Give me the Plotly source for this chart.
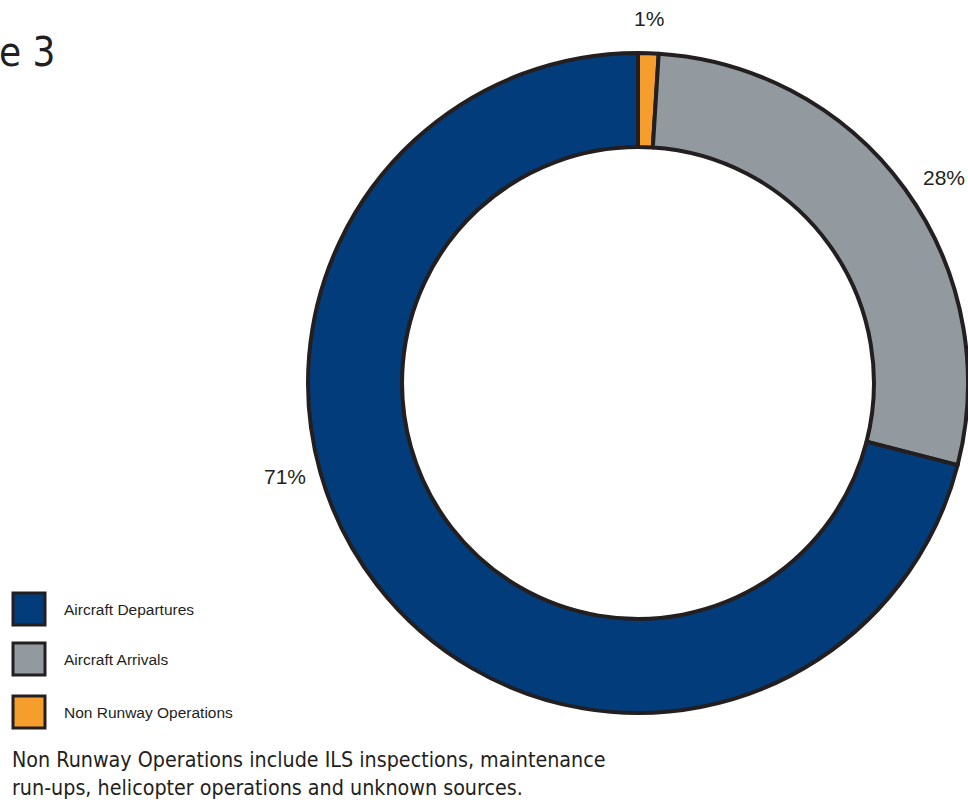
import plotly.graph_objects as go

categories = ["Non Runway Operations", "Aircraft Arrivals", "Aircraft Departures"]
values = [1, 28, 71]
colors = ["#f59d2d", "#939a9f", "#033c7a"]
legend_order = ["Aircraft Departures", "Aircraft Arrivals", "Non Runway Operations"]
footnote = ("Non Runway Operations include ILS inspections, maintenance<br>"
            "run-ups, helicopter operations and unknown sources.")

W, H = 968, 810
cx, cy, R = 638, 383, 330

fig = go.Figure(go.Pie(
    labels=categories, values=values, sort=False, direction="clockwise",
    rotation=0, hole=0.715, textinfo="none", hoverinfo="label+percent",
    marker=dict(colors=colors, line=dict(color="#231f20", width=4)),
    domain=dict(x=[(cx - R) / W, (cx + R) / W], y=[(H - cy - R) / H, (H - cy + R) / H]),
    showlegend=False,
))

total = sum(values)
label_pos = {"Non Runway Operations": (649, 18), "Aircraft Arrivals": (944, 177),
             "Aircraft Departures": (285, 476)}
annotations = []
for c, v in zip(categories, values):
    x, y = label_pos[c]
    annotations.append(dict(x=x / W, y=1 - y / H, xref="paper", yref="paper",
                            text=f"{round(100 * v / total)}%", showarrow=False,
                            font=dict(family="Liberation Sans, Arial", size=21, color="#231f20"),
                            xanchor="center", yanchor="middle"))

shapes = []
legend_y = [609, 659, 712]
for name, ly in zip(legend_order, legend_y):
    col = colors[categories.index(name)]
    shapes.append(dict(type="rect", xref="paper", yref="paper",
                       x0=13 / W, x1=45 / W, y0=1 - (ly + 16) / H, y1=1 - (ly - 16) / H,
                       fillcolor=col, line=dict(color="#231f20", width=3)))
    annotations.append(dict(x=62 / W, y=1 - ly / H, xref="paper", yref="paper",
                            text=name, showarrow=False, xanchor="left", yanchor="middle",
                            font=dict(family="Liberation Sans, Arial", size=15.5, color="#231f20")))

annotations.append(dict(x=-3 / W, y=1 - 52 / H, xref="paper", yref="paper", text="e 3",
                        showarrow=False, xanchor="left", yanchor="middle",
                        font=dict(family="DejaVu Sans Condensed, Arial Narrow, Arial",
                                  size=40, color="#231f20")))
annotations.append(dict(x=10 / W, y=1 - 773 / H, xref="paper", yref="paper", text=footnote,
                        showarrow=False, xanchor="left", yanchor="middle", align="left",
                        font=dict(family="DejaVu Sans Condensed, Arial Narrow, Arial",
                                  size=21.3, color="#231f20")))

fig.update_layout(width=W, height=H, margin=dict(l=0, r=0, t=0, b=0),
                  paper_bgcolor="white", plot_bgcolor="white",
                  annotations=annotations, shapes=shapes)
fig.write_html("out.html", config={"displayModeBar": False},
               post_script="document.body.style.margin='0';document.body.style.overflow='hidden';")
